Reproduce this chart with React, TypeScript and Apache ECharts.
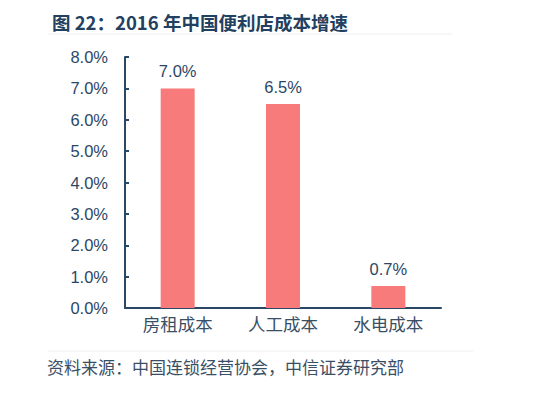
import React, { useEffect, useRef } from "react";
import * as echarts from "echarts";

const categories = ["房租成本", "人工成本", "水电成本"];
const growth = [7.0, 6.5, 0.7];
const yTicks = [0, 1, 2, 3, 4, 5, 6, 7, 8];

const NAVY = "#2b4766";

export default function App() {
  const ref = useRef<HTMLDivElement>(null);
  useEffect(() => {
    const chart = echarts.init(ref.current!, null, { renderer: "svg" });
    chart.setOption({
      animation: false,
      backgroundColor: "#ffffff",
      title: {
        text: "图 22：2016 年中国便利店成本增速",
        left: 47,
        top: 8,
        textStyle: {
          fontFamily: "Noto Sans CJK SC",
          fontSize: 18.5,
          fontWeight: "bold",
          color: "#22405f",
        },
      },
      graphic: [
        {
          type: "line",
          shape: { x1: 48, y1: 34, x2: 452, y2: 34 },
          style: { stroke: "#eeeeee", lineWidth: 1 },
        },
        {
          type: "line",
          shape: { x1: 48, y1: 351, x2: 473, y2: 351 },
          style: { stroke: "#eeeeee", lineWidth: 1 },
        },
        {
          type: "text",
          x: 47,
          y: 358,
          style: {
            text: "资料来源：中国连锁经营协会，中信证券研究部",
            fontFamily: "Noto Sans CJK SC",
            fontSize: 17,
            fill: "#3a4f66",
          },
        },
      ],
      grid: { left: 125, right: 109, top: 57, bottom: 89, containLabel: false },
      xAxis: {
        type: "category",
        data: categories,
        axisLine: { lineStyle: { color: NAVY, width: 2 } },
        axisTick: { show: false },
        axisLabel: {
          fontFamily: "Noto Sans CJK SC",
          fontSize: 17.5,
          color: "#3a4f66",
          margin: 7,
        },
      },
      yAxis: {
        type: "value",
        min: yTicks[0],
        max: yTicks[yTicks.length - 1],
        interval: 1,
        axisLine: { show: true, lineStyle: { color: NAVY, width: 2 } },
        axisTick: { show: true, inside: true, length: 4, lineStyle: { color: NAVY, width: 2 } },
        splitLine: { show: false },
        axisLabel: {
          formatter: (v: number) => v.toFixed(1) + "%",
          fontFamily: "Liberation Sans",
          fontSize: 16.5,
          color: NAVY,
          margin: 17,
        },
      },
      series: [
        {
          type: "bar",
          data: growth,
          barWidth: 34,
          itemStyle: { color: "#f77b7b" },
          label: {
            show: true,
            position: "top",
            distance: 9,
            formatter: (p: any) => p.value.toFixed(1) + "%",
            fontFamily: "Liberation Sans",
            fontSize: 16.5,
            color: NAVY,
          },
        },
      ],
    });
    return () => chart.dispose();
  }, []);
  return <div ref={ref} style={{ width: 550, height: 397, position: "absolute", left: 0, top: 0 }} />;
}
